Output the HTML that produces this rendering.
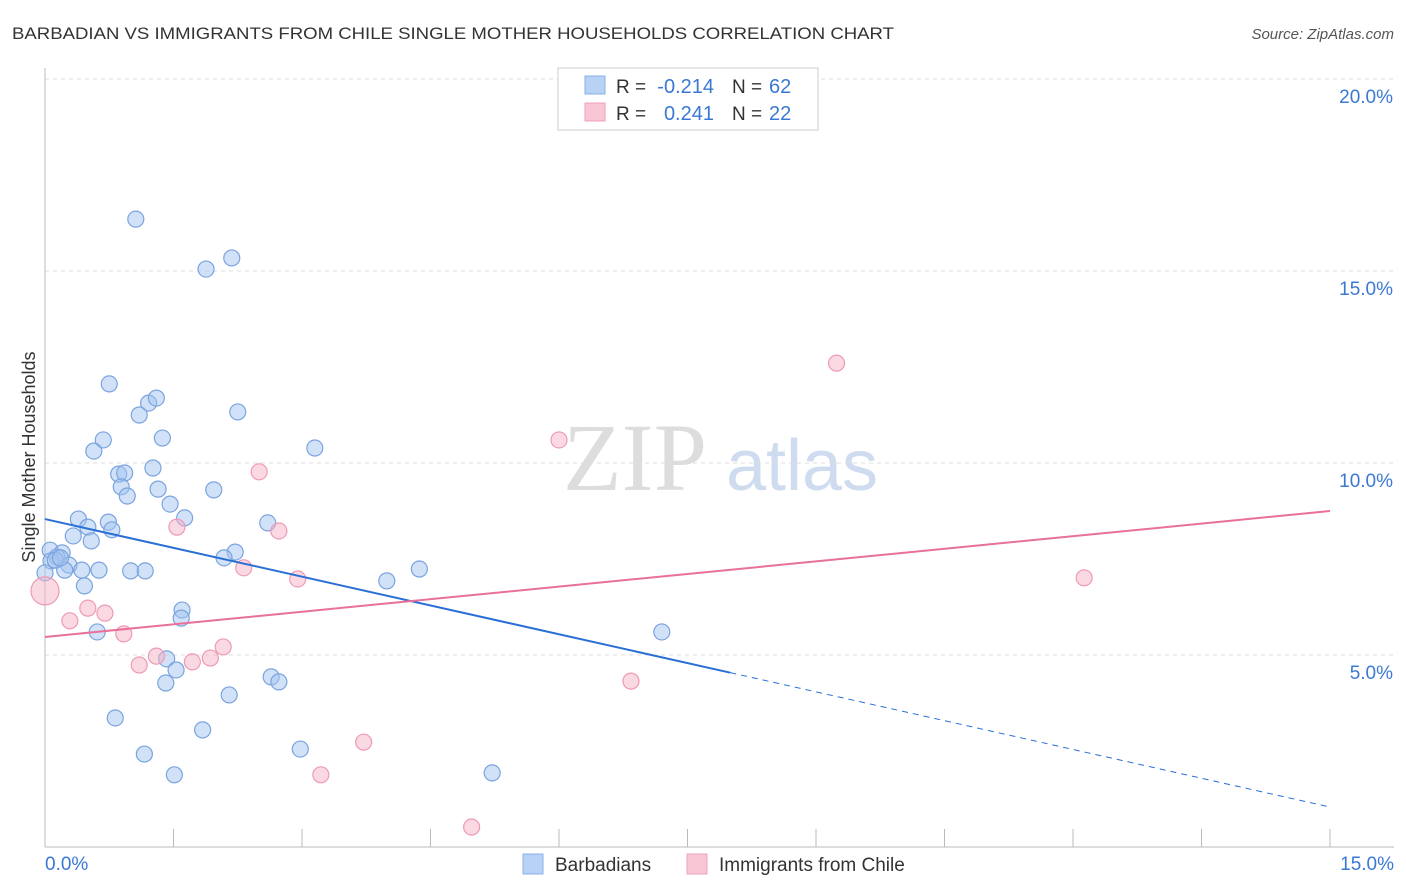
<!DOCTYPE html>
<html><head><meta charset="utf-8">
<style>
body{margin:0;background:#fff;font-family:"Liberation Sans",sans-serif;}
svg{display:block}
</style></head>
<body>
<svg width="1406" height="892" id="chart">
<text x="12" y="39" font-size="17" fill="#333" textLength="882" lengthAdjust="spacingAndGlyphs">BARBADIAN VS IMMIGRANTS FROM CHILE SINGLE MOTHER HOUSEHOLDS CORRELATION CHART</text>
<text x="1394" y="39" font-size="15" fill="#555" font-style="italic" text-anchor="end">Source: ZipAtlas.com</text>
<text x="35" y="457" font-size="18" fill="#333" transform="rotate(-90 35 457)" text-anchor="middle">Single Mother Households</text>
<g><text x="635" y="490" font-size="96" fill="#ddd" font-family="Liberation Serif,serif" text-anchor="middle">ZIP</text><text x="802" y="490" font-size="72" fill="#cfdcef" text-anchor="middle">atlas</text></g>
<g id="grid"></g><g id="axes"></g><g id="pts"></g><g id="lines"></g>
<g>
<rect x="558" y="68" width="260" height="62" fill="#fff" stroke="#ccc"/>
<rect x="585" y="76" width="20" height="18" fill="#b8d2f5" stroke="#89b0e6"/>
<rect x="585" y="103" width="20" height="18" fill="#f8c6d5" stroke="#f0a0b8"/>
<text x="616" y="93" font-size="19" fill="#333">R =</text>
<text x="714" y="93" font-size="20" fill="#3a78d4" text-anchor="end">-0.214</text>
<text x="732" y="93" font-size="19" fill="#333">N =</text>
<text x="769" y="93" font-size="20" fill="#3a78d4">62</text>
<text x="616" y="120" font-size="19" fill="#333">R =</text>
<text x="714" y="120" font-size="20" fill="#3a78d4" text-anchor="end">0.241</text>
<text x="732" y="120" font-size="19" fill="#333">N =</text>
<text x="769" y="120" font-size="20" fill="#3a78d4">22</text>
</g>
<g>
<rect x="523" y="854" width="20" height="20" fill="#b8d2f5" stroke="#89b0e6"/>
<text x="555" y="871" font-size="19" fill="#333">Barbadians</text>
<rect x="687" y="854" width="20" height="20" fill="#f8c6d5" stroke="#f0a0b8"/>
<text x="719" y="871" font-size="19" fill="#333">Immigrants from Chile</text>
</g>
</svg>
<script>
const yTicks=[5,10,15,20];
const yTickLabels=["5.0%","10.0%","15.0%","20.0%"];
const xTickLabels=["0.0%","15.0%"];
const blueX=[1.06,1.88,2.18,0.75,1.21,1.30,1.10,2.25,0.68,1.37,0.57,3.15,0.86,0.93,1.26,0.89,1.32,0.96,1.97,1.46,1.63,0.39,0.50,0.74,0.78,0.33,0.54,2.60,0.06,0.20,0.14,0.07,0.28,0.23,0.43,0.63,1.00,1.17,2.22,2.09,4.37,3.99,0.46,1.60,1.59,0.61,7.20,1.42,1.53,1.41,2.64,2.73,2.15,0.82,1.84,1.16,2.98,1.51,5.22,0.0,0.12,0.18];
const blueY=[16.35,15.05,15.34,12.06,11.56,11.69,11.25,11.33,10.60,10.65,10.31,10.39,9.71,9.74,9.87,9.38,9.32,9.14,9.30,8.93,8.57,8.54,8.33,8.46,8.26,8.10,7.97,8.44,7.73,7.66,7.55,7.45,7.34,7.21,7.21,7.21,7.19,7.19,7.68,7.53,7.24,6.93,6.80,6.17,5.96,5.60,5.60,4.90,4.61,4.27,4.43,4.30,3.96,3.36,3.05,2.42,2.55,1.88,1.93,7.14,7.47,7.53];
const pinkX=[0,0.29,0.50,0.70,0.92,1.10,1.30,1.54,1.72,1.93,2.08,2.32,2.50,2.73,2.95,3.22,3.72,4.98,6.00,6.84,9.24,12.13];
const pinkY=[6.67,5.89,6.22,6.09,5.55,4.74,4.97,8.33,4.82,4.92,5.21,7.27,9.77,8.23,6.98,1.88,2.73,0.52,10.60,4.32,12.60,7.01];
const blueTrend=[8.54,1.04];
const pinkTrend=[5.47,8.75];
const xs=v=>45+v*(1330-45)/15;
const ys=v=>847-v*38.4;
const NS="http://www.w3.org/2000/svg";
function mk(t,a,p){const e=document.createElementNS(NS,t);for(const k in a)e.setAttribute(k,a[k]);p.appendChild(e);return e;}
const grid=document.getElementById('grid'),axes=document.getElementById('axes');
yTicks.forEach((t,i)=>{
 const l=mk('line',{x1:45,x2:1394,y1:ys(t),y2:ys(t),stroke:'#ddd','stroke-dasharray':'4 4'},grid);
 
 
 const tx=mk('text',{x:1393,y:ys(t)+24,'font-size':19,fill:'#3a78d4','text-anchor':'end'},axes);
 tx.textContent=yTickLabels[i];
 
 
});
const ax=mk('line',{x1:45,x2:1394,y1:847,y2:847,stroke:'#bbb'},axes);


const ay=mk('line',{x1:45,x2:45,y1:68,y2:847,stroke:'#bbb'},axes);


for(let i=1;i<=10;i++){const t=mk('line',{x1:xs(i*1.5),x2:xs(i*1.5),y1:829,y2:847,stroke:'#bbb'},axes);
 
 }
xTickLabels.forEach((s,i)=>{const t=mk('text',{x:i?1394:45,y:870,'font-size':19,fill:'#3a78d4','text-anchor':i?'end':'start'},axes);t.textContent=s;
 
 });
const pts=document.getElementById('pts');
blueX.forEach((x,i)=>{const c=mk('circle',{cx:xs(x),cy:ys(blueY[i]),r:8,fill:'rgba(163,196,240,0.5)',stroke:'#7aa4df','stroke-width':1.2},pts);
 
 });
pinkX.forEach((x,i)=>{const c=mk('circle',{cx:xs(x),cy:ys(pinkY[i]),r:i==0?14:8,fill:'rgba(245,180,200,0.5)',stroke:'#ee9ab4','stroke-width':1.2},pts);
 
 });
const lines=document.getElementById('lines');
const bAt=x=>blueTrend[0]+(blueTrend[1]-blueTrend[0])*x/15;
const b1=mk('line',{x1:xs(0),y1:ys(bAt(0)),x2:xs(8),y2:ys(bAt(8)),stroke:'#2a6fd6','stroke-width':2},lines);


const b2=mk('line',{x1:xs(8),y1:ys(bAt(8)),x2:xs(15),y2:ys(bAt(15)),stroke:'#2a6fd6','stroke-width':1,'stroke-dasharray':'6 5'},lines);


const p1=mk('line',{x1:xs(0),y1:ys(pinkTrend[0]),x2:xs(15),y2:ys(pinkTrend[1]),stroke:'#e8709a','stroke-width':2},lines);


</script>
</body></html>
